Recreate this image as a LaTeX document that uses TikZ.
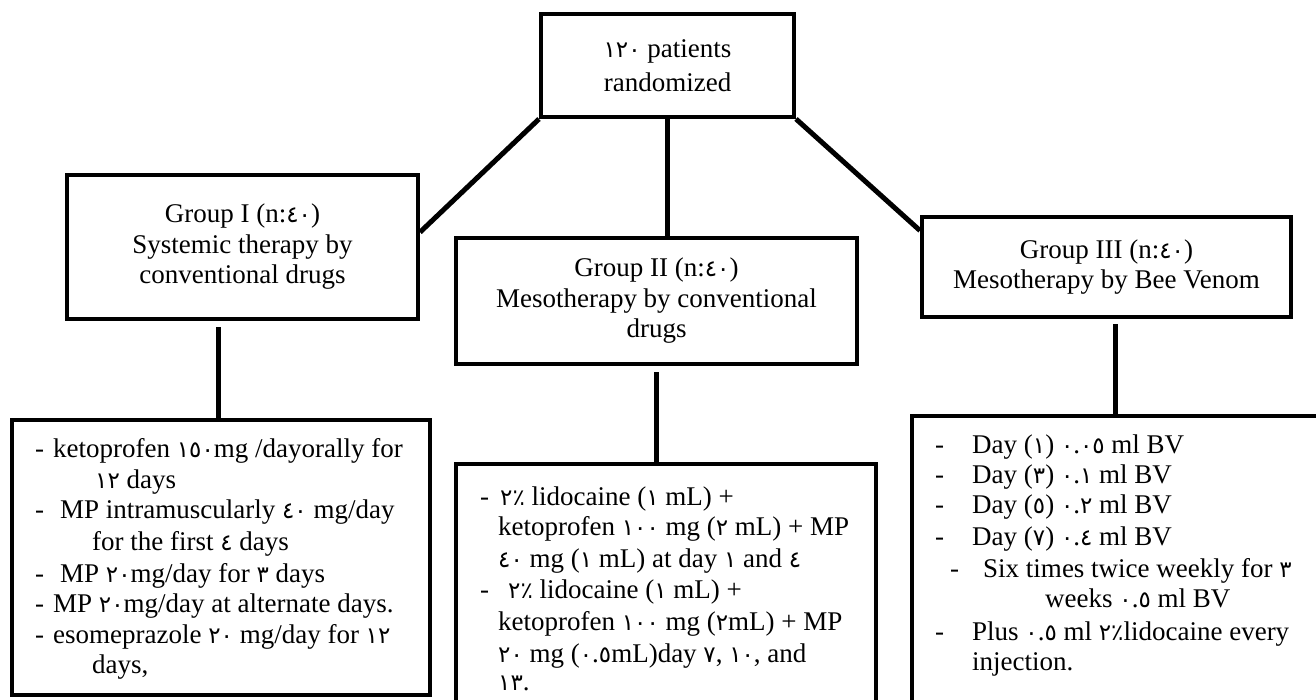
\documentclass[tikz,border=0pt]{standalone}
\usepackage{fontspec}
\setmainfont{Liberation Serif}
\newfontfamily\arfont[Scale=0.85]{DejaVu Sans}
\newcommand\AD[1]{{\arfont #1}}
\usetikzlibrary{calc}
\tikzset{
  box/.style={draw=black, line width=4pt, fill=white, inner sep=0pt, align=center,
    font=\fontsize{27}{30.5}\selectfont},
  conn/.style={draw=black, line width=5pt},
  txt/.style={inner sep=0pt, anchor=base west, font=\fontsize{27}{30.5}\selectfont},
}
\newcommand\txl[4]{\node[txt] (#1) at (#2,#3) {#4};}
\begin{document}
\begin{tikzpicture}[x=1pt,y=-1pt]
\useasboundingbox (0,0) rectangle (1316,700);
\fill[white] (0,0) rectangle (1316,700);
\clip (0,0) rectangle (1316,700);

% upper boxes
\node[box, minimum width=253pt, minimum height=103pt] (top) at (667.5,65.5)
  {\AD{١٢٠} patients\\[3pt]randomized};
\node[box, minimum width=351pt, minimum height=144pt] (g1) at (242.5,247)
  {Group I (n:\AD{٤٠})\\Systemic therapy by\\conventional drugs};
\node[box, minimum width=401pt, minimum height=126pt] (g2) at (656.5,301)
  {Group II (n:\AD{٤٠})\\Mesotherapy by conventional\\drugs};
\node[box, minimum width=369pt, minimum height=100pt] (g3) at (1106.5,267)
  {Group III (n:\AD{٤٠})\\Mesotherapy by Bee Venom};

% lower boxes
\node[box, minimum width=418pt, minimum height=275pt] (b1) at (221,557.5) {};
\node[box, minimum width=420pt, minimum height=276pt] (b2) at (666,602) {};
\node[box, minimum width=428pt, minimum height=324pt] (b3) at (1126,578) {};

% connectors
\draw[conn] (top.south west) -- ($(g1.north east)!0.4!(g1.south east)$);
\draw[conn] (top.south) -- (top.south |- g2.north);
\draw[conn] (top.south east) -- ($(g3.north west)!0.15!(g3.south west)$);
\draw[conn] ($(b1.north |- g1.south)+(-3,6)$) -- ($(b1.north)+(-3,0)$);
\draw[conn] ($(g2.south)+(0,6)$) -- (g2.south |- b2.north);
\draw[conn] ($(g3.south)+(8.5,5)$) coordinate (g3d) -- (g3d |- b3.north);

% box 1 text
\txl{a1}{35}{457}{-}
\txl{a1t}{53}{457}{ketoprofen \AD{١٥٠}mg /dayorally for}
\txl{a2t}{95}{488}{\AD{١٢} days}
\txl{a3}{35}{518}{-}
\txl{a3t}{60}{518}{MP intramuscularly \AD{٤٠} mg/day}
\txl{a4t}{92}{550}{for the first \AD{٤} days}
\txl{a5}{35}{582}{-}
\txl{a5t}{60}{582}{MP \AD{٢٠}mg/day for \AD{٣} days}
\txl{a6}{35}{612}{-}
\txl{a6t}{53}{612}{MP \AD{٢٠}mg/day at alternate days.}
\txl{a7}{35}{643}{-}
\txl{a7t}{53}{643}{esomeprazole \AD{٢٠} mg/day for \AD{١٢}}
\txl{a8t}{92}{673}{days,}

% box 2 text
\txl{c1}{480}{505}{-}
\txl{c1t}{500}{505}{\AD{٢٪} lidocaine (\AD{١} mL) +}
\txl{c2t}{498}{535}{ketoprofen \AD{١٠٠} mg (\AD{٢} mL) + MP}
\txl{c3t}{498}{567}{\AD{٤٠} mg (\AD{١} mL) at day \AD{١} and \AD{٤}}
\txl{c4}{480}{598}{-}
\txl{c4t}{508}{598}{\AD{٢٪} lidocaine (\AD{١} mL) +}
\txl{c5t}{498}{630}{ketoprofen \AD{١٠٠} mg (\AD{٢}mL) + MP}
\txl{c6t}{498}{662}{\AD{٢٠} mg (\AD{٠}.\AD{٥}mL)day \AD{٧}, \AD{١٠}, and}
\txl{c7t}{498}{690}{\AD{١٣}.}

% box 3 text
\txl{d1}{935}{453}{-}
\txl{d1t}{972}{453}{Day (\AD{١}) \AD{٠}.\AD{٠٥} ml BV}
\txl{d2}{935}{483}{-}
\txl{d2t}{972}{483}{Day (\AD{٣}) \AD{٠}.\AD{١} ml BV}
\txl{d3}{935}{513}{-}
\txl{d3t}{972}{513}{Day (\AD{٥}) \AD{٠}.\AD{٢} ml BV}
\txl{d4}{935}{545}{-}
\txl{d4t}{972}{545}{Day (\AD{٧}) \AD{٠}.\AD{٤} ml BV}
\txl{d5}{950}{577}{-}
\txl{d5t}{983}{577}{Six times twice weekly for \AD{٣}}
\txl{d6t}{1045}{607}{weeks \AD{٠}.\AD{٥} ml BV}
\txl{d7}{935}{640}{-}
\txl{d7t}{972}{640}{Plus \AD{٠}.\AD{٥} ml \AD{٢٪}lidocaine every}
\txl{d8t}{972}{670}{injection.}
\end{tikzpicture}
\end{document}
